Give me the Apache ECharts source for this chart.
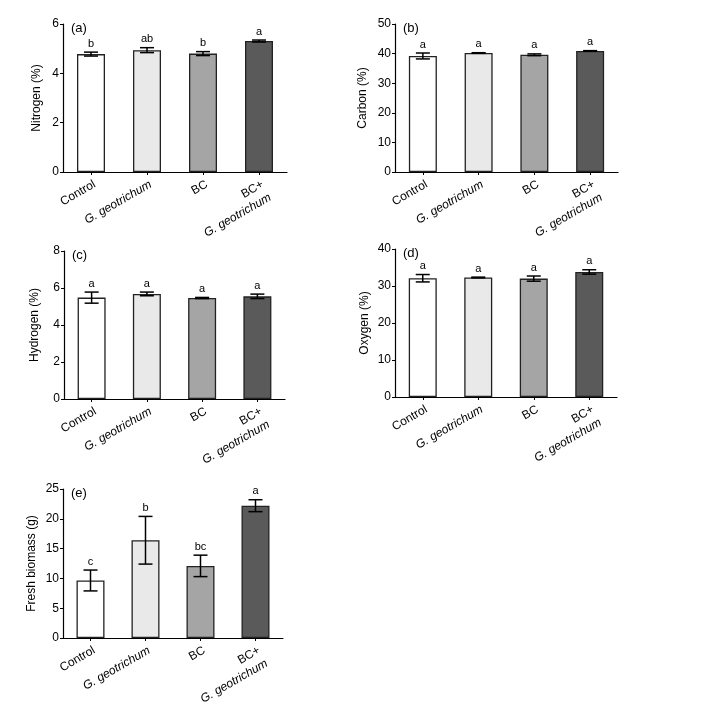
<html>
<head>
	<meta charset="utf-8">
	<title>Elemental composition and fresh biomass</title>
	<script src="https://cdn.jsdelivr.net/npm/echarts@6/dist/echarts.min.js"></script>
	<style type="text/css">
		html, body { margin: 0; padding: 0; background: #fff; }
	</style>
</head>
	<body>
		<div id="eCharts-container" style="width:712px;height:715px"></div>
	<script type="text/javascript">
		// treatments on the x axis
		var categories = ['Control', 'G. geotrichum', 'BC', 'BC+ G. geotrichum'];
		var barColors = ['#ffffff', '#e9e9e9', '#a5a5a5', '#5a5a5a'];

		// (a) nitrogen
		var nitrogen = [4.78, 4.94, 4.80, 5.31];
		var nitrogenErr = [0.08, 0.10, 0.08, 0.04];
		var nitrogenLetters = ['b', 'ab', 'b', 'a'];
		// (b) carbon
		var carbon = [39.2, 40.2, 39.6, 40.9];
		var carbonErr = [1.0, 0.1, 0.3, 0.1];
		var carbonLetters = ['a', 'a', 'a', 'a'];
		// (c) hydrogen
		var hydrogen = [5.48, 5.68, 5.46, 5.55];
		var hydrogenErr = [0.30, 0.10, 0.03, 0.12];
		var hydrogenLetters = ['a', 'a', 'a', 'a'];
		// (d) oxygen
		var oxygen = [32.1, 32.3, 32.0, 33.8];
		var oxygenErr = [1.0, 0.1, 0.7, 0.6];
		var oxygenLetters = ['a', 'a', 'a', 'a'];
		// (e) fresh biomass
		var biomass = [9.65, 16.4, 12.1, 22.2];
		var biomassErr = [1.75, 4.0, 1.8, 1.0];
		var biomassLetters = ['c', 'b', 'bc', 'a'];

		var FONT = 'Liberation Sans, Arial, Helvetica, sans-serif';

		var panels = [
			{tag: '(a)', name: 'Nitrogen (%)', vals: nitrogen, errs: nitrogenErr, letters: nitrogenLetters, max: 6, step: 2,
				grid: {left: 63, top: 24, width: 224, height: 148}, gap: 20},
			{tag: '(b)', name: 'Carbon (%)', vals: carbon, errs: carbonErr, letters: carbonLetters, max: 50, step: 10,
				grid: {left: 395, top: 24, width: 223, height: 148}, gap: 26},
			{tag: '(c)', name: 'Hydrogen (%)', vals: hydrogen, errs: hydrogenErr, letters: hydrogenLetters, max: 8, step: 2,
				grid: {left: 64, top: 251, width: 221, height: 148}, gap: 23},
			{tag: '(d)', name: 'Oxygen (%)', vals: oxygen, errs: oxygenErr, letters: oxygenLetters, max: 40, step: 10,
				grid: {left: 395, top: 249, width: 222, height: 148}, gap: 24},
			{tag: '(e)', name: 'Fresh biomass (g)', vals: biomass, errs: biomassErr, letters: biomassLetters, max: 25, step: 5,
				grid: {left: 63, top: 489, width: 220, height: 149}, gap: 25}
		];

		function catLabel(value, idx) {
			if (idx === 1) return '{i|G. geotrichum}';
			if (idx === 3) return '{n|BC+}\n{i|G. geotrichum}';
			return '{n|' + value + '}';
		}

		var option = {
			animation: false,
			backgroundColor: '#fff',
			title: [], grid: [], xAxis: [], yAxis: [], series: []
		};

		for (var k = 0; k < panels.length; k++) {
			var p = panels[k];
			option.grid.push(p.grid);
			option.title.push({
				text: p.tag, left: p.grid.left + 8, top: p.grid.top - 2, padding: 0,
				textStyle: {fontSize: 13, fontWeight: 'normal', color: '#000', fontFamily: FONT}
			});
			option.xAxis.push({
				type: 'category', gridIndex: k, data: categories,
				axisLine: {lineStyle: {color: '#000', width: 1.2}},
				axisTick: {show: true, alignWithLabel: true, length: 3, lineStyle: {color: '#000'}},
				axisLabel: {
					rotate: 30, margin: 5, interval: 0, formatter: catLabel,
					align: 'right', verticalAlign: 'top',
					rich: {
						n: {fontSize: 12, color: '#000', fontFamily: FONT, align: 'right', lineHeight: 15},
						i: {fontSize: 12, color: '#000', fontFamily: FONT, fontStyle: 'italic', align: 'right', lineHeight: 15}
					}
				}
			});
			option.yAxis.push({
				type: 'value', gridIndex: k, min: 0, max: p.max, interval: p.step,
				name: p.name, nameLocation: 'middle', nameGap: p.gap,
				nameTextStyle: {fontSize: 12, color: '#000', fontFamily: FONT},
				axisLine: {show: true, lineStyle: {color: '#000', width: 1.2}},
				axisTick: {show: true, length: 3, lineStyle: {color: '#000'}},
				axisLabel: {fontSize: 12, color: '#000', fontFamily: FONT, margin: 4},
				splitLine: {show: false}
			});
			var barData = [];
			for (var x = 0; x < p.vals.length; x++) {
				barData.push({value: p.vals[x], itemStyle: {color: barColors[x]}});
			}
			option.series.push({
				type: 'bar', xAxisIndex: k, yAxisIndex: k, data: barData, barWidth: 28,
				itemStyle: {borderColor: '#222', borderWidth: 1.3}
			});
			var errData = [];
			for (var x = 0; x < p.vals.length; x++) {
				errData.push([x, p.vals[x], p.errs[x]]);
			}
			option.series.push({
				type: 'custom', xAxisIndex: k, yAxisIndex: k, data: errData, z: 5,
				renderItem: (function (letters) {
					return function (params, api) {
						var i = api.value(0), m = api.value(1), e = api.value(2);
						var hi = api.coord([i, m + e]);
						var lo = api.coord([i, m - e]);
						var top = api.coord([i, m]);
						var st = {stroke: '#000', lineWidth: 1.5};
						var kids = [];
						if (hi[1] < top[1] - 0.5) {
							kids.push({type: 'line', shape: {x1: hi[0], y1: hi[1], x2: lo[0], y2: lo[1]}, style: st});
						}
						kids.push({type: 'line', shape: {x1: hi[0] - 7, y1: hi[1], x2: hi[0] + 7, y2: hi[1]}, style: st});
						kids.push({type: 'line', shape: {x1: lo[0] - 7, y1: lo[1], x2: lo[0] + 7, y2: lo[1]}, style: st});
						kids.push({
							type: 'text',
							style: {
								text: letters[params.dataIndex], x: hi[0], y: Math.min(hi[1], top[1]) - 3,
								align: 'center', verticalAlign: 'bottom',
								fontSize: 11, fontFamily: FONT, fill: '#000'
							}
						});
						return {type: 'group', children: kids};
					};
				})(p.letters)
			});
		}

		var myChart = echarts.init(document.getElementById('eCharts-container'));
		myChart.setOption(option);
	</script>
	</body>
</html>
